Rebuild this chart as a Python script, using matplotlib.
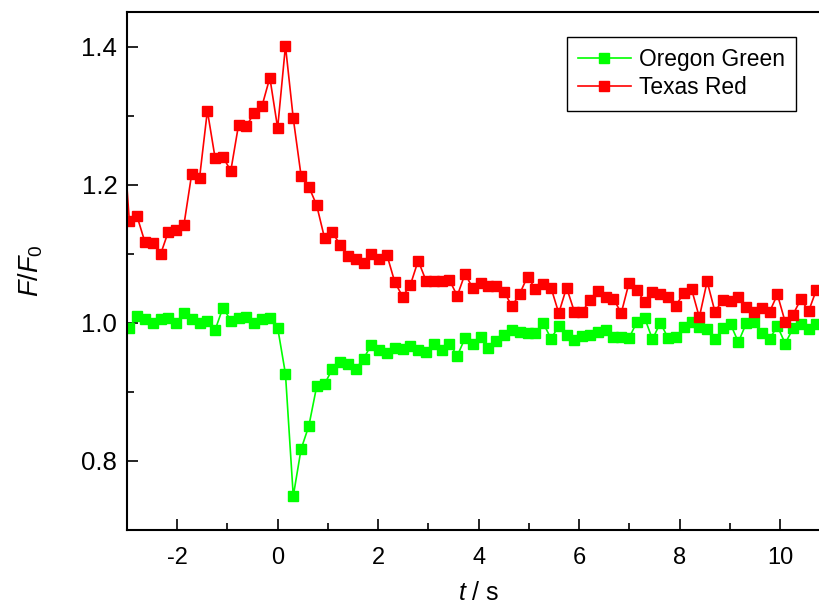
import numpy as np
import matplotlib.pyplot as plt
from matplotlib.ticker import MultipleLocator

# sampling: first visible point at t = -2.955 s, step 0.1554 s
t0 = -3.11
dt = 0.1554

red = [1.31,
       1.148, 1.154, 1.117, 1.116, 1.099, 1.132, 1.134, 1.142, 1.216, 1.210,
       1.307, 1.238, 1.240, 1.220, 1.287, 1.285, 1.304, 1.314, 1.355, 1.282,
       1.401, 1.296, 1.213, 1.197, 1.170, 1.123, 1.131, 1.113, 1.097, 1.092,
       1.087, 1.100, 1.092, 1.098, 1.059, 1.038, 1.055, 1.090, 1.061, 1.061,
       1.061, 1.062, 1.039, 1.071, 1.050, 1.058, 1.054, 1.054, 1.045, 1.024,
       1.042, 1.067, 1.049, 1.056, 1.051, 1.014, 1.051, 1.016, 1.016, 1.033,
       1.046, 1.038, 1.035, 1.014, 1.058, 1.048, 1.030, 1.044, 1.042, 1.038,
       1.025, 1.043, 1.049, 1.008, 1.060, 1.016, 1.033, 1.032, 1.037, 1.023,
       1.015, 1.021, 1.016, 1.041, 1.001, 1.012, 1.034, 1.017, 1.048]

green = [0.995,
         0.993, 1.010, 1.005, 1.000, 1.006, 1.007, 0.999, 1.014, 1.006, 0.999,
         1.002, 0.990, 1.022, 1.003, 1.007, 1.008, 0.999, 1.005, 1.007, 0.993,
         0.926, 0.749, 0.817, 0.851, 0.908, 0.911, 0.933, 0.943, 0.940, 0.933,
         0.948, 0.968, 0.960, 0.956, 0.964, 0.962, 0.967, 0.961, 0.957, 0.970,
         0.961, 0.970, 0.952, 0.978, 0.970, 0.980, 0.964, 0.973, 0.982, 0.990,
         0.986, 0.985, 0.985, 1.000, 0.977, 0.995, 0.982, 0.975, 0.981, 0.982,
         0.986, 0.990, 0.979, 0.980, 0.978, 1.001, 1.007, 0.976, 1.000, 0.978,
         0.979, 0.994, 1.001, 0.994, 0.991, 0.976, 0.992, 0.998, 0.972, 0.999,
         1.001, 0.985, 0.977, 0.995, 0.970, 0.992, 0.998, 0.991, 0.998]

t = t0 + dt*np.arange(len(red))

plt.rcParams.update({
    'font.family': 'Liberation Sans',
    'font.size': 17,
    'axes.unicode_minus': False,
    'mathtext.fontset': 'custom',
    'mathtext.rm': 'Liberation Sans',
    'mathtext.it': 'Liberation Sans:italic',
})

fig = plt.figure(figsize=(8.2, 6.1), dpi=100)
ax = fig.add_axes([127/820, 80/610, 703.5/820, 518/610])

ax.plot(t, green, color='#00ff00', lw=1.2, marker='s', ms=7.2, mec='#00ff00',
        label='Oregon Green')
ax.plot(t, red, color='#ff0000', lw=1.2, marker='s', ms=7.2, mec='#ff0000',
        label='Texas Red')

ax.set_xlim(-3, 11)
ax.set_ylim(0.7, 1.45)

ax.xaxis.set_major_locator(MultipleLocator(2))
ax.xaxis.set_minor_locator(MultipleLocator(1))
ax.yaxis.set_major_locator(MultipleLocator(0.2))
ax.yaxis.set_minor_locator(MultipleLocator(0.1))
ax.yaxis.set_major_formatter(plt.FormatStrFormatter('%.1f'))

ax.tick_params(which='both', direction='in', top=False, right=False, width=1.2)
ax.tick_params(which='major', length=8)
ax.tick_params(which='minor', length=5)
ax.tick_params(axis='x', which='major', labelsize=17, pad=12)
ax.tick_params(axis='y', which='major', labelsize=18.5, pad=7)
for s in ax.spines.values():
    s.set_linewidth(1.5)

ax.set_xlabel('$t$ / s', fontsize=18, labelpad=9)
ax.set_ylabel('$F$/$F_0$', fontsize=19.5, labelpad=26)

leg = ax.legend(loc='upper right', bbox_to_anchor=(796/820, 1-37/610),
                bbox_transform=fig.transFigure, borderaxespad=0,
                fancybox=False, edgecolor='black', framealpha=1,
                numpoints=1, handlelength=2.3, fontsize=16.4,
                borderpad=0.5, labelspacing=0.22, handletextpad=0.35)
leg.get_frame().set_linewidth(1.0)

fig.savefig('out.png', dpi=100)
